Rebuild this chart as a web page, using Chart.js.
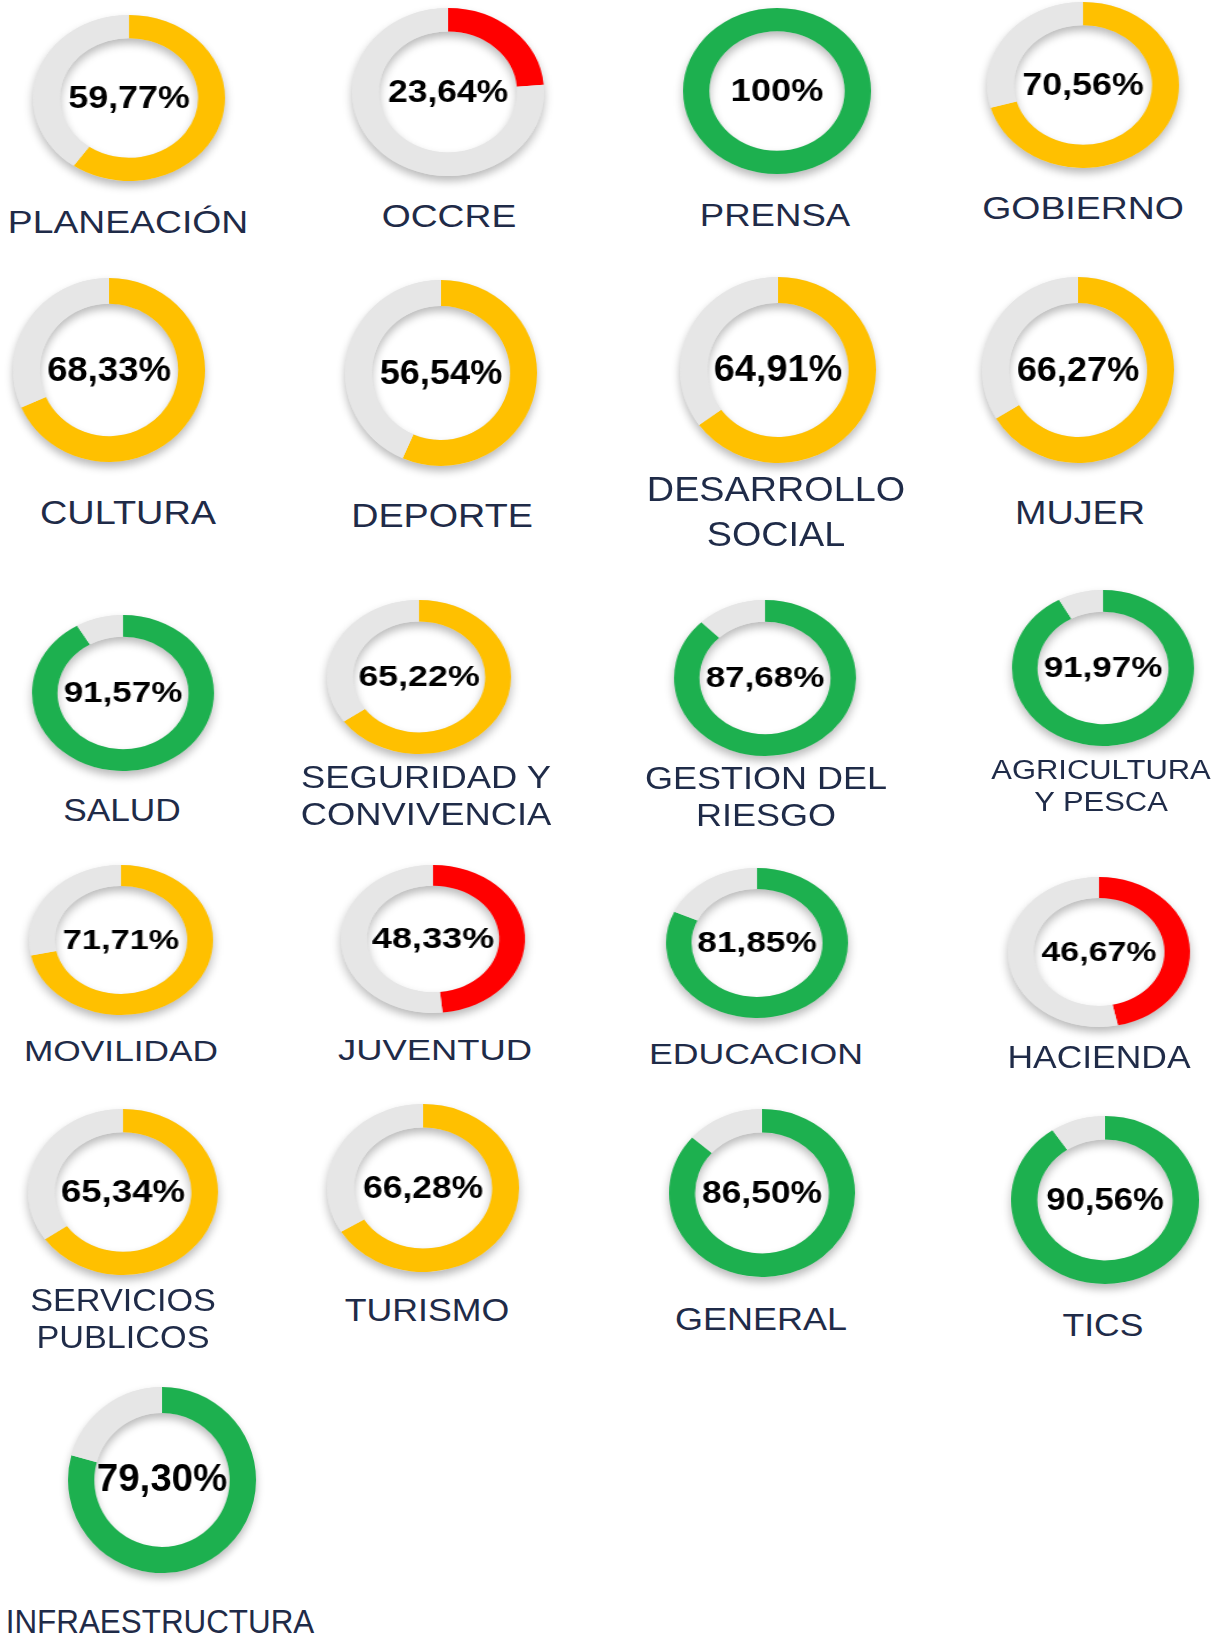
<!DOCTYPE html>
<html lang="es">
<head>
<meta charset="utf-8">
<script src="https://cdn.jsdelivr.net/npm/chart.js@4.4.1/dist/chart.umd.min.js"></script>
<style>
  body {
    margin: 0;
    background: #fff;
    width: 1215px;
    height: 1638px;
    position: relative;
    overflow: hidden;
    font-family: 'Liberation Sans', Arial, sans-serif;
  }
  .dona { position: absolute; }
  .etiqueta {
    position: absolute;
    color: #1f2b48;
    white-space: nowrap;
    line-height: 1;
  }
</style>
</head>
<body>
<script>
// Áreas y porcentaje de avance
const areas = [
  'PLANEACIÓN', 'OCCRE', 'PRENSA', 'GOBIERNO',
  'CULTURA', 'DEPORTE', 'DESARROLLO\nSOCIAL', 'MUJER',
  'SALUD', 'SEGURIDAD Y\nCONVIVENCIA', 'GESTION DEL\nRIESGO', 'AGRICULTURA\nY PESCA',
  'MOVILIDAD', 'JUVENTUD', 'EDUCACION', 'HACIENDA',
  'SERVICIOS\nPUBLICOS', 'TURISMO', 'GENERAL', 'TICS',
  'INFRAESTRUCTURA'
]
const avance = [
  59.77, 23.64, 100, 70.56,
  68.33, 56.54, 64.91, 66.27,
  91.57, 65.22, 87.68, 91.97,
  71.71, 48.33, 81.85, 46.67,
  65.34, 66.28, 86.50, 90.56,
  79.30
]

// Colores del semáforo
const VERDE = '#1db04f'
const AMARILLO = '#ffc000'
const ROJO = '#ff0000'
const GRIS = '#e6e6e6'

function colorSemaforo(v) {
  if (v >= 75) return VERDE
  if (v >= 50) return AMARILLO
  return ROJO
}

function formatoPct(v) {
  if (v % 1 === 0) return v + '%'
  return v.toFixed(2).replace('.', ',') + '%'
}

// Posición de cada dona en la imagen:
// [cx, cy, rx, ry, fuentePct, etiquetaX, etiquetaY, fuenteEtiqueta, anchoEtiqueta, saltoLinea]
const posiciones = [
  [129, 98, 96, 83, 31, 128, 222, 32, 240, 0],
  [448, 92, 96, 84, 31, 449, 216, 32, 135, 0],
  [777, 91, 94, 83, 32, 775, 215, 32, 151, 0],
  [1083, 85, 96, 83, 31, 1083, 208, 32, 201, 0],
  [109, 370, 96, 92, 35, 128, 512, 34, 176, 0],
  [441, 373, 96, 93, 35, 442, 515, 34, 182, 0],
  [778, 370, 98, 93, 36, 776, 488, 35, 258, 45],
  [1078, 370, 96, 93, 35, 1080, 512, 34, 130, 0],
  [123, 693, 91, 78, 30, 122, 810, 32, 118, 0],
  [419, 677, 92, 77, 30, 426, 777, 32, 250, 37],
  [765, 678, 91, 78, 30, 766, 778, 32, 242, 37],
  [1103, 668, 91, 78, 30, 1101, 770, 27, 220, 32],
  [121, 940, 92, 75, 28, 121, 1051, 30, 194, 0],
  [433, 939, 92, 74, 29, 435, 1050, 30, 194, 0],
  [757, 943, 91, 75, 29, 756, 1054, 30, 214, 0],
  [1099, 952, 91, 75, 28, 1099, 1057, 31, 183, 0],
  [123, 1192, 95, 83, 32, 123, 1300, 32, 186, 37],
  [423, 1188, 96, 84, 31, 427, 1310, 32, 165, 0],
  [762, 1193, 93, 84, 32, 761, 1319, 32, 172, 0],
  [1105, 1200, 94, 84, 31, 1103, 1325, 32, 81, 0],
  [162, 1480, 94, 93, 38, 160, 1621, 33, 309, 0]
]

const PAD = 14 // espacio para la sombra

// Anillo gris con sombra debajo de los segmentos
const sombraAnillo = {
  id: 'sombraAnillo',
  beforeDatasetsDraw(chart) {
    const arc = chart.getDatasetMeta(0).data[0]
    if (!arc) return
    const { x, y, outerRadius, innerRadius } = arc.getProps(['x', 'y', 'outerRadius', 'innerRadius'], true)
    const ctx = chart.ctx
    ctx.save()
    ctx.shadowColor = 'rgba(0, 0, 0, 0.28)'
    ctx.shadowBlur = 9
    ctx.shadowOffsetY = 5
    ctx.fillStyle = GRIS
    ctx.beginPath()
    ctx.arc(x, y, outerRadius, 0, Math.PI * 2)
    ctx.arc(x, y, innerRadius, 0, Math.PI * 2, true)
    ctx.fill()
    ctx.restore()
  }
}

// Texto del porcentaje en el centro
const textoCentro = {
  id: 'textoCentro',
  afterDraw(chart, args, opts) {
    const arc = chart.getDatasetMeta(0).data[0]
    if (!arc) return
    const ctx = chart.ctx
    ctx.save()
    ctx.font = `bold ${opts.size}px 'Liberation Sans', Arial, sans-serif`
    ctx.fillStyle = '#000'
    ctx.textAlign = 'center'
    ctx.textBaseline = 'middle'
    ctx.fillText(opts.text, arc.x, arc.y + 1)
    ctx.restore()
  }
}

areas.forEach((area, i) => {
  const [cx, cy, rx, ry, fPct, lx, ly, fEt, anchoEt, salto] = posiciones[i]
  const v = avance[i]
  const lado = (ry + PAD) * 2

  const caja = document.createElement('div')
  caja.className = 'dona'
  caja.style.left = (cx - lado / 2) + 'px'
  caja.style.top = (cy - lado / 2) + 'px'
  caja.style.width = lado + 'px'
  caja.style.height = lado + 'px'
  caja.style.transform = `scaleX(${rx / ry})`
  const canvas = document.createElement('canvas')
  canvas.width = lado
  canvas.height = lado
  caja.appendChild(canvas)
  document.body.appendChild(caja)

  new Chart(canvas, {
    type: 'doughnut',
    data: {
      labels: ['Avance', 'Pendiente'],
      datasets: [{
        data: [v, 100 - v],
        backgroundColor: [colorSemaforo(v), GRIS],
        borderWidth: 0
      }]
    },
    options: {
      responsive: false,
      animation: false,
      cutout: '72%',
      layout: { padding: PAD },
      plugins: {
        legend: { display: false },
        tooltip: { enabled: false },
        textoCentro: { text: formatoPct(v), size: fPct }
      }
    },
    plugins: [sombraAnillo, textoCentro]
  })

  // Nombre del área debajo de la dona
  const lineas = area.split('\n')
  const divs = lineas.map((txt, j) => {
    const d = document.createElement('div')
    d.className = 'etiqueta'
    d.textContent = txt
    d.style.fontSize = fEt + 'px'
    d.style.left = lx + 'px'
    d.style.top = (ly + j * salto) + 'px'
    document.body.appendChild(d)
    return d
  })
  const anchoMax = Math.max(...divs.map(d => d.offsetWidth))
  const k = anchoEt / anchoMax
  divs.forEach(d => {
    d.style.transform = `translate(-50%, -50%) scaleX(${k})`
  })
})
</script>
</body>
</html>
